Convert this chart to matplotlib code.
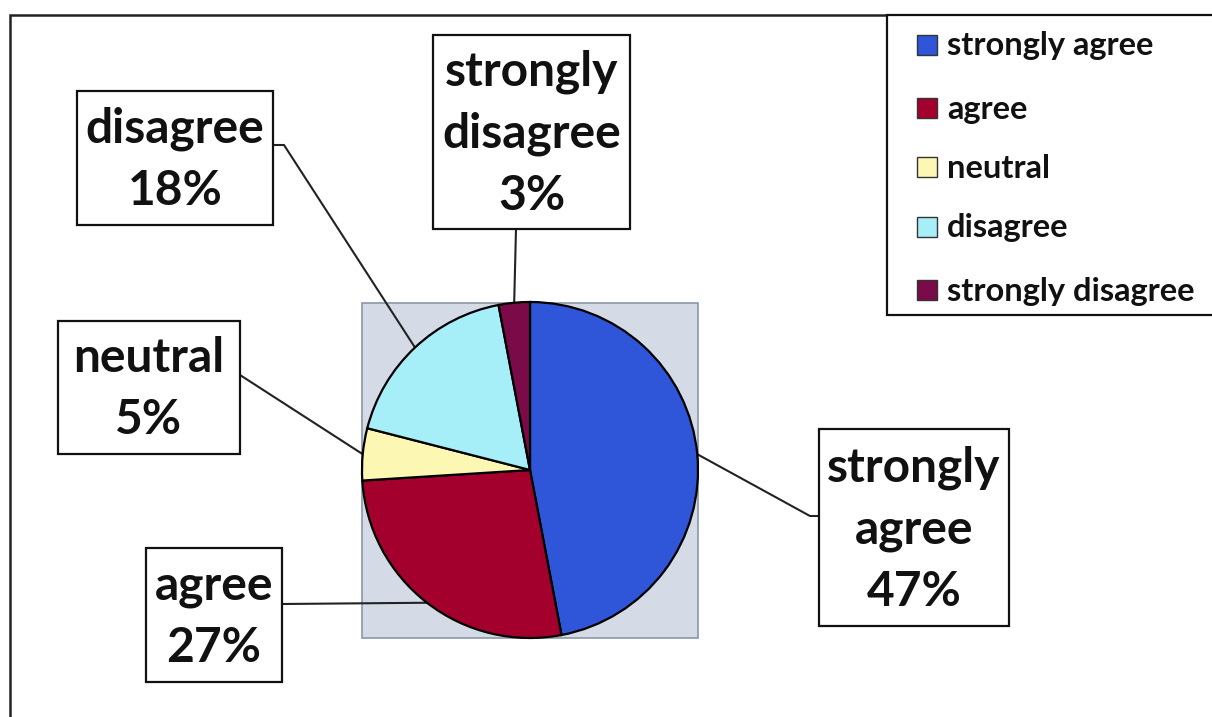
import numpy as np
import matplotlib.pyplot as plt
from matplotlib.patches import Rectangle

# survey answers, share of respondents in percent
categories = ["strongly agree", "agree", "neutral", "disagree", "strongly disagree"]
shares = [47, 27, 5, 18, 3]
colors = ["#2f55d8", "#a3002e", "#fdf7b4", "#a6eef8", "#7a0a48"]

W, H = 1212, 717
plt.rcParams["font.family"] = ["Lato", "DejaVu Sans"]

fig = plt.figure(figsize=(W / 100, H / 100), dpi=100)
ax = fig.add_axes([0, 0, 1, 1])


def up(y):
    # layout below is written with y measured from the top edge
    return H - y


# outer chart frame
ax.add_patch(Rectangle((10, up(740)), 1240, 740 - 15, fill=False,
                       edgecolor="#222222", linewidth=1.8, zorder=1))

# plot area behind the pie
ax.add_patch(Rectangle((362, up(638)), 336, 335, facecolor="#d4dbe6",
                       edgecolor="#8a96a8", linewidth=1.2, zorder=2))

cx, cy, r = 530, up(470), 168
wedges, _ = ax.pie(shares, colors=colors, startangle=90, counterclock=False,
                   center=(cx, cy), radius=r, frame=True,
                   wedgeprops=dict(edgecolor="black", linewidth=1.6, zorder=3))

# label boxes: (left, top, right, bottom), attach point on box, optional elbow
boxes = {
    "strongly agree": ((819, 429, 1009, 626), (819, 516), (810, 516)),
    "agree": ((146, 548, 282, 682), (282, 604), None),
    "neutral": ((58, 321, 240, 454), (240, 375), None),
    "disagree": ((77, 91, 273, 225), (273, 145), (284, 145)),
    "strongly disagree": ((433, 35, 630, 229), (516, 229), None),
}

for w, name, pct in zip(wedges, categories, shares):
    (x0, y0, x1, y1), attach, elbow = boxes[name]
    ax.add_patch(Rectangle((x0, up(y1)), x1 - x0, y1 - y0, facecolor="white",
                           edgecolor="#111111", linewidth=1.6, zorder=4))
    label = name.replace(" ", "\n") + "\n" + f"{pct}%"
    ax.text((x0 + x1) / 2, up((y0 + y1) / 2) - 2, label, ha="center", va="center",
            fontsize=34.5, fontweight="bold", color="#111111", linespacing=1.5,
            zorder=5)

    # leader line from the box to the middle of the wedge's arc
    mid = np.deg2rad((w.theta1 + w.theta2) / 2)
    px, py = w.center[0] + w.r * np.cos(mid), w.center[1] + w.r * np.sin(mid)
    xs = [attach[0]]
    ys = [up(attach[1])]
    if elbow is not None:
        xs.append(elbow[0])
        ys.append(up(elbow[1]))
    xs.append(px)
    ys.append(py)
    ax.plot(xs, ys, color="#222222", linewidth=1.5, zorder=2.5)

# legend box in the top right corner
ax.add_patch(Rectangle((887, up(315)), 400, 300, facecolor="white",
                       edgecolor="#111111", linewidth=1.6, zorder=4))
row_y = [45, 108, 167, 227, 290]
for name, col, yy in zip(categories, colors, row_y):
    ax.add_patch(Rectangle((917, up(yy + 10)), 20, 20, facecolor=col,
                           edgecolor="#333333", linewidth=1.0, zorder=5))
    ax.text(947, up(yy) - 1, name, ha="left", va="center", fontsize=23.5,
            fontweight="bold", color="#111111", zorder=5)

ax.set_xlim(0, W)
ax.set_ylim(0, H)
ax.set_aspect("auto")
ax.axis("off")

fig.savefig("out.png", dpi=100, facecolor="white")
